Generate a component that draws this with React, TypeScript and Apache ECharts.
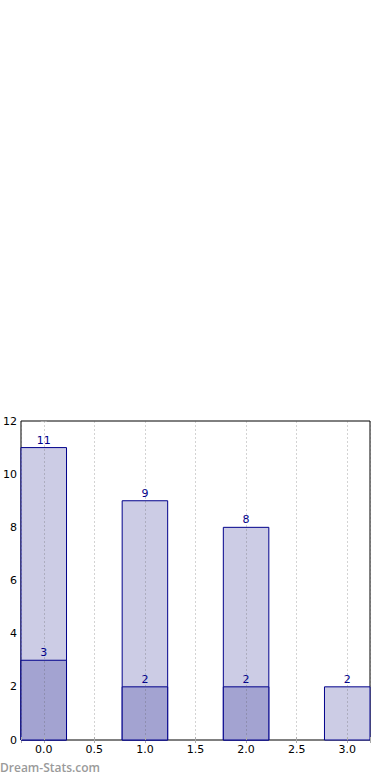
import React, { useEffect, useRef } from "react";
import * as echarts from "echarts";

const positions = [0, 1, 2, 3];
const totals = [11, 9, 8, 2];
const subset = [3, 2, 2, 0];
const xMin = -0.225;
const xMax = 3.225;
const barHalf = 0.225;
const yMax = 12;
const yStep = 2;

const FONT = "DejaVu Sans";
const EDGE = "#00008b";

function makeRender(fill: string) {
  return (params: any, api: any) => {
    const x = api.value(0);
    const v = api.value(1);
    if (!v) return null;
    const p0 = api.coord([x - barHalf, v]);
    const p1 = api.coord([x + barHalf, 0]);
    return {
      type: "group",
      children: [
        {
          type: "rect",
          shape: { x: p0[0], y: p0[1], width: p1[0] - p0[0], height: p1[1] - p0[1] },
          style: { fill, stroke: EDGE, lineWidth: 1 },
        },
        {
          type: "text",
          x: (p0[0] + p1[0]) / 2,
          y: p0[1] - 2,
          style: {
            text: String(v),
            fill: EDGE,
            font: `11px "${FONT}"`,
            align: "center",
            verticalAlign: "bottom",
          },
        },
      ],
    };
  };
}

export default function App() {
  const ref = useRef<HTMLDivElement>(null);
  useEffect(() => {
    document.body.style.margin = "0";
    const chart = echarts.init(ref.current!, null, { renderer: "svg" });
    const fmtX = (v: number) => {
      const r = Math.round(v * 2) / 2;
      return Math.abs(r - v) < 1e-6 ? r.toFixed(1) : "";
    };
    const tickStyle = { show: true, inside: true, length: 3, lineStyle: { color: "#aaa", width: 1 } };
    chart.setOption({
      animation: false,
      grid: {
        left: 19,
        right: 20,
        top: 421,
        bottom: 40,
        show: true,
        borderColor: "#000",
        borderWidth: 1,
        backgroundColor: "transparent",
      },
      xAxis: [
        {
          type: "value",
          min: xMin,
          max: xMax,
          splitNumber: 7,
          z: 3,
          axisLine: { show: false },
          axisTick: tickStyle,
          axisLabel: {
            formatter: fmtX,
            color: "#000",
            fontFamily: FONT,
            fontSize: 11,
            margin: 4,
            showMinLabel: true,
            showMaxLabel: true,
          },
          splitLine: {
            show: true,
            lineStyle: { color: "rgba(80,80,80,0.25)", type: [2, 2], width: 1 },
          },
        },
        {
          type: "value",
          position: "top",
          min: xMin,
          max: xMax,
          splitNumber: 7,
          axisLine: { show: false },
          axisTick: tickStyle,
          axisLabel: { show: false },
          splitLine: { show: false },
        },
      ],
      yAxis: [
        {
          type: "value",
          min: 0,
          max: yMax,
          interval: yStep,
          axisLine: { show: false },
          axisTick: tickStyle,
          axisLabel: { color: "#000", fontFamily: FONT, fontSize: 11, margin: 4 },
          splitLine: { show: false },
        },
        {
          type: "value",
          position: "right",
          min: 0,
          max: yMax,
          interval: yStep,
          axisLine: { show: false },
          axisTick: tickStyle,
          axisLabel: { show: false },
          splitLine: { show: false },
        },
      ],
      series: [
        {
          type: "custom",
          z: 2,
          renderItem: makeRender("#ccccE5"),
          data: positions.map((p, i) => [p, totals[i]]),
          encode: { x: 0, y: 1 },
        },
        {
          type: "custom",
          z: 2,
          renderItem: makeRender("#a3a3d1"),
          data: positions.map((p, i) => [p, subset[i]]),
          encode: { x: 0, y: 1 },
        },
      ],
      graphic: [
        {
          type: "text",
          left: 0,
          top: 761,
          style: {
            text: "Dream-Stats.com",
            fill: "#9a9a9a",
            font: `600 12px "Open Sans"`,
          },
        },
      ],
    });
    return () => chart.dispose();
  }, []);
  return (
    <div
      ref={ref}
      style={{ position: "absolute", left: 0, top: 0, width: 390, height: 780 }}
    />
  );
}
